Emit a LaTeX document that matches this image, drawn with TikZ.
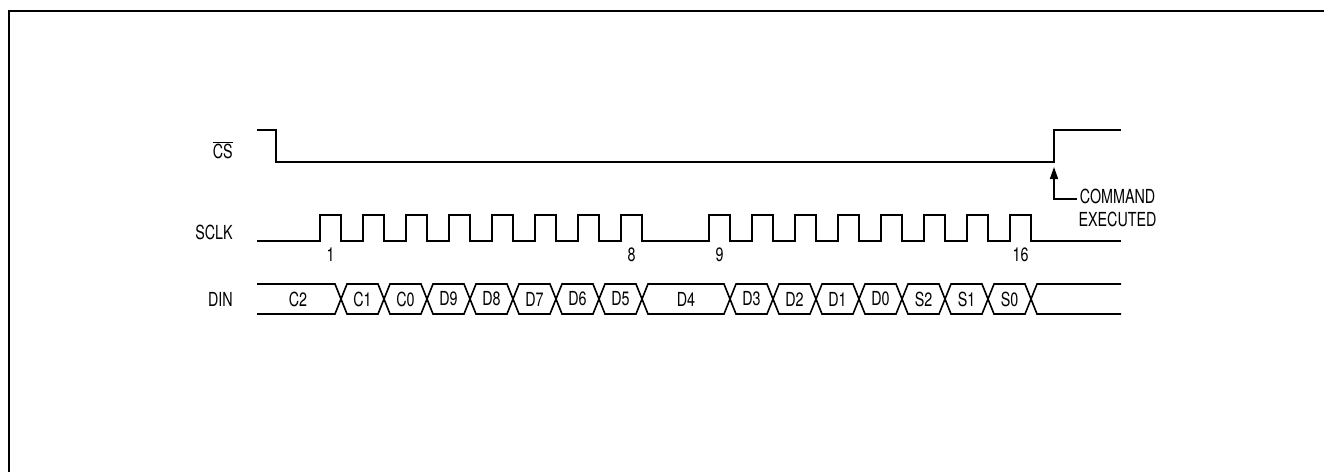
\documentclass[tikz,border=0pt]{standalone}
\usepackage{fontspec}
\setmainfont{TeX Gyre Heros}[FakeStretch=0.74]
\usetikzlibrary{arrows.meta}

\begin{document}
\begin{tikzpicture}[x=0.75pt,y=-0.75pt,>={Triangle[length=9pt,width=6pt]},
  every node/.style={font=\fontsize{14.5}{17.25}\selectfont},
  signal/.style={line width=1.2pt,line join=miter},
  siglabel/.style={anchor=east,inner sep=0pt},
  bitlabel/.style={inner sep=0pt},
  ]
  \useasboundingbox (0,0) rectangle (1324,472);

  % frame
  \draw[line width=1.5pt] (9,472) -- (9,11) -- (1324,11);

  % signal names
  \node[siglabel] (cs) at (233,150) {$\overline{\mbox{CS}}$};
  \node[siglabel] (sclk) at (233,232) {SCLK};
  \node[siglabel] (din) at (233,299) {DIN};

  % chip select
  \draw[signal] (257,130) -- (276,130) -- (276,162) -- (1054,162) -- (1054,130) -- (1121,130);

  % clock
  \draw[signal] (257,241) foreach \r in {320,363,406,449,492,535,578,621,709,752,795,838,881,924,967,1010}
    { -- (\r,241) -- (\r,215) -- (\r+21,215) -- (\r+21,241) } -- (1121,241);
  \foreach \r/\n in {320/1,621/8,709/9,1010/16}
    \node[bitlabel] (clk\n) at (\r+10.5,255) {\n};

  % data in
  \draw[signal] (257,284) -- (335,284) -- (341,299) -- (335,314) -- (257,314);
  \node[bitlabel] (bitC2) at (298,299) {C2};
  \foreach \a/\b/\bit in {341/384/C1,384/427/C0,427/470/D9,470/513/D8,513/556/D7,
      556/599/D6,599/642/D5,642/730/D4,730/773/D3,773/816/D2,816/859/D1,
      859/902/D0,902/945/S2,945/988/S1,988/1031/S0}
  {
    \draw[signal] (\a,299) -- (\a+6,284) -- (\b-6,284) -- (\b,299) -- (\b-6,314) -- (\a+6,314) -- cycle;
    \node[bitlabel] (bit\bit) at ({(\a+\b)/2},299) {\bit};
  }
  \draw[signal] (1121,284) -- (1037,284) -- (1031,299) -- (1037,314) -- (1121,314);

  % command executed
  \coordinate (cmd) at (1054,199);
  \coordinate (csrise) at (1054,167);
  \node[anchor=west,align=center,inner sep=1pt] (exec) at (1077,207.5) {COMMAND\\EXECUTED};
  \draw[line width=1.2pt,->] (exec.west |- cmd) -- (cmd) -- (csrise);

\end{tikzpicture}
\end{document}
